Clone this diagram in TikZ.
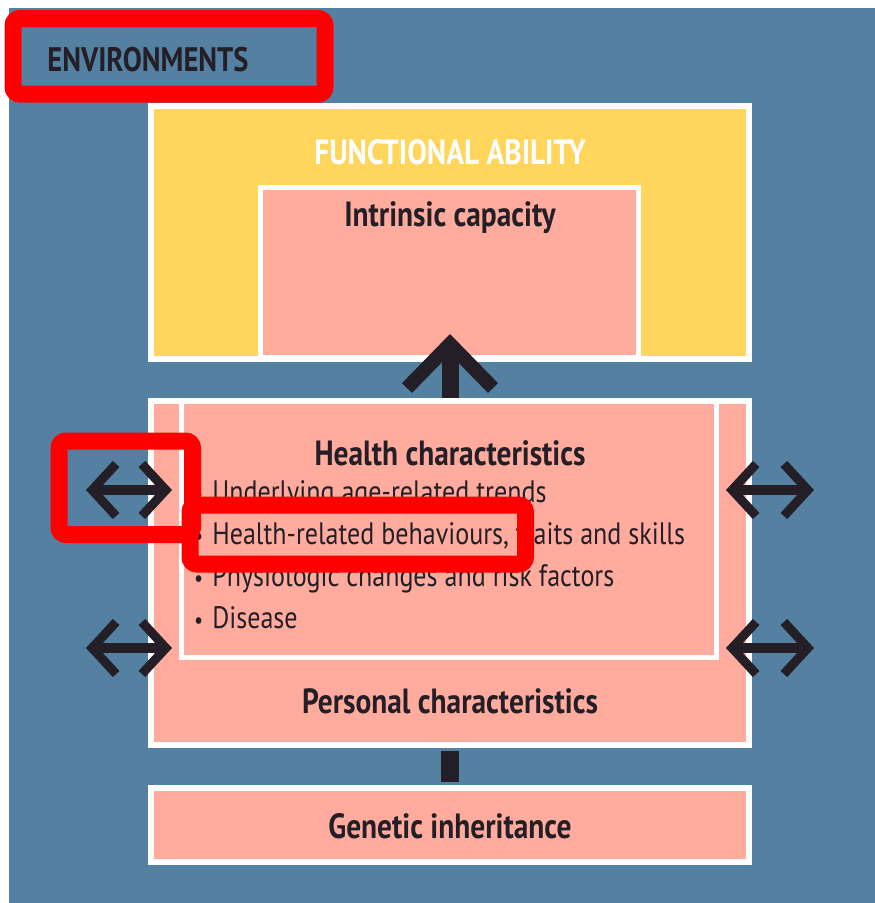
\documentclass[tikz,border=0pt]{standalone}
\usepackage{fontspec}
\setmainfont{PT Sans}[FakeStretch=0.84]
\usetikzlibrary{arrows.meta,positioning}
\definecolor{envblue}{RGB}{84,128,161}
\definecolor{abilityyellow}{RGB}{255,213,92}
\definecolor{capacitypink}{RGB}{255,172,158}
\definecolor{inkdark}{RGB}{36,30,38}
\definecolor{markred}{RGB}{255,0,0}
\newcommand{\hbul}{{\fontsize{24}{24}\selectfont\textbullet}\hspace{9pt}}
\tikzset{
  panel/.style={draw=white, line width=6pt, fill=capacitypink, inner sep=0pt},
  heading/.style={font=\fontsize{35}{38}\selectfont\bfseries, text=inkdark, inner sep=0pt},
  listtext/.style={font=\fontsize{31}{42}\selectfont, text=inkdark, inner sep=0pt, align=left},
  envarrow/.style={draw=inkdark, line width=10pt, {Straight Barb[length=24pt,width=52pt,line width=9pt]}-{Straight Barb[length=24pt,width=52pt,line width=9pt]}},
  marker/.style={draw=markred, line width=17pt, rounded corners=7pt}
}
\begin{document}
\begin{tikzpicture}[x=1pt,y=-1pt]
\useasboundingbox (0,0) rectangle (875,903);
\fill[white] (0,0) rectangle (875,903);
\fill[envblue] (9,8) rectangle (875,903);
\node[heading, font=\fontsize{34}{36}\selectfont\bfseries] (env) at (148,60) {ENVIRONMENTS};
% functional ability and intrinsic capacity
\node[panel, fill=abilityyellow, minimum width=598pt, minimum height=253pt] (ability) at (450,232.5) {};
\node[heading, text=white] (abilitytitle) at (450,152) {FUNCTIONAL ABILITY};
\node[panel, line width=5pt, minimum width=378pt, minimum height=170pt] (capacity) at (449.5,272) {};
\node[heading] (capacitytitle) at (450,218) {Intrinsic capacity};
% personal and health characteristics
\node[panel, minimum width=598pt, minimum height=344pt] (personal) at (450,573) {};
\node[panel, line width=5pt, minimum width=535pt, minimum height=256pt] (health) at (449,529) {};
\node[heading] (healthtitle) at (450,453) {Health characteristics};
\node[listtext, anchor=north west] (healthlist) at (194,480)
  {\hbul Underlying age-related trends\\
   \hbul Health-related behaviours, traits and skills\\
   \hbul Physiologic changes and risk factors\\
   \hbul Disease};
\node[heading] (personaltitle) at (450,701) {Personal characteristics};
% genetic inheritance
\node[panel, minimum width=598pt, minimum height=74pt] (genetic) at (450,825) {};
\node[heading] (genetictitle) at (450,826) {Genetic inheritance};
% connectors
\coordinate (captip) at (450,334);
\draw[inkdark, line width=17pt, -{Straight Barb[length=44pt,width=86pt,line width=14pt]}] (personal.north) -- (captip);
\draw[inkdark, line width=18pt, shorten <=3pt, shorten >=3pt] (personal.south) -- (genetic.north);
\coordinate (lefttop) at (86,490);
\coordinate (lefttopin) at (172,490);
\coordinate (leftbot) at (86,648);
\coordinate (leftbotin) at (172,648);
\coordinate (righttop) at (814,490);
\coordinate (righttopin) at (726,490);
\coordinate (rightbot) at (814,648);
\coordinate (rightbotin) at (726,648);
\draw[envarrow] (lefttop) -- (lefttopin);
\draw[envarrow] (leftbot) -- (leftbotin);
\draw[envarrow] (righttopin) -- (righttop);
\draw[envarrow] (rightbotin) -- (rightbot);
% highlight marks
\draw[marker] (13,18.5) rectangle (325,94);
\draw[marker] (59,441) rectangle (192.5,534.5);
\draw[marker] (190,505) rectangle (525.5,564);
\end{tikzpicture}
\end{document}
